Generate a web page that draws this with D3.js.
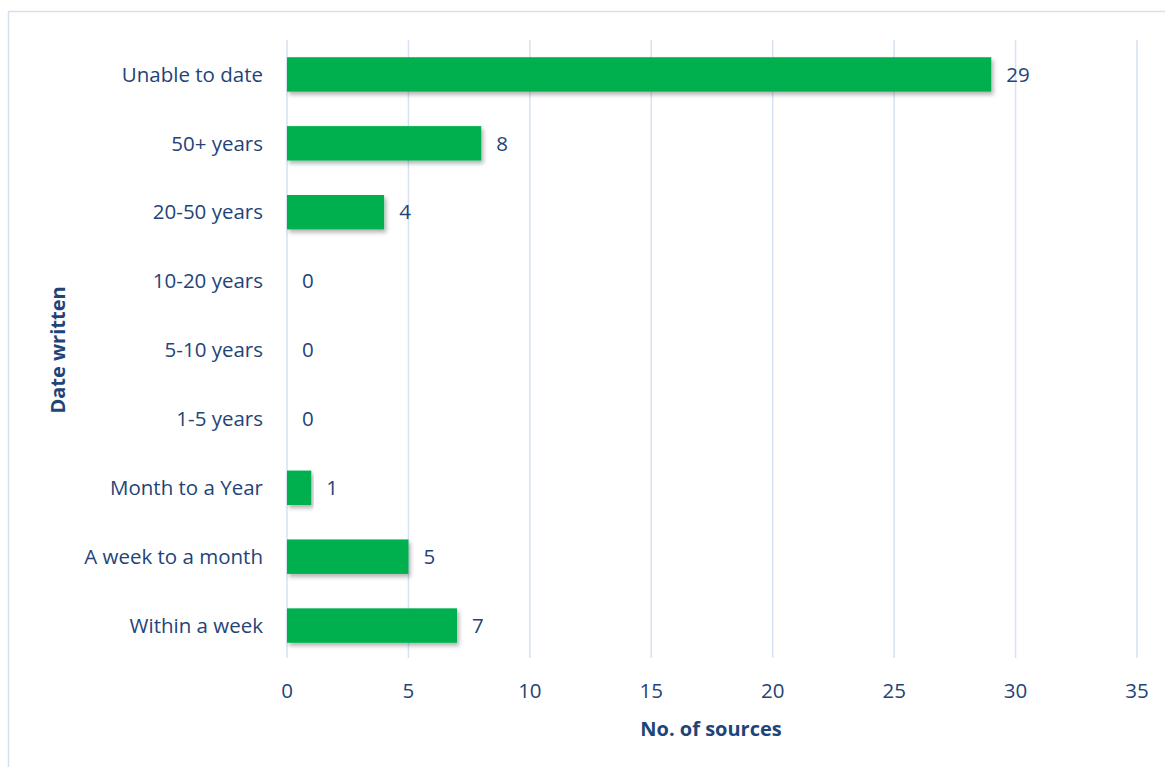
<!DOCTYPE html>
<html><head><meta charset="utf-8">
<script src="https://cdn.jsdelivr.net/npm/d3@7"></script>
<style>body{margin:0;background:#fff;} text{font-family:"Open Sans","Noto Sans",sans-serif;}</style>
</head><body>
<script>
const categories = ["Unable to date","50+ years","20-50 years","10-20 years","5-10 years","1-5 years","Month to a Year","A week to a month","Within a week"];
const values = [29,8,4,0,0,0,1,5,7];
const xTicks = [0,5,10,15,20,25,30,35];
const xTitle = "No. of sources";
const yTitle = "Date written";

const W = 1165, H = 767;
const svg = d3.select("body").append("svg").attr("width",W).attr("height",H);
const defs = svg.append("defs");
const f = defs.append("filter").attr("id","sh").attr("x","-5%").attr("y","-20%").attr("width","115%").attr("height","160%");
f.append("feDropShadow").attr("dx",2).attr("dy",3).attr("stdDeviation",2).attr("flood-color","#000").attr("flood-opacity",0.3);

svg.append("rect").attr("x",8.5).attr("y",11.5).attr("width",W).attr("height",H).attr("fill","#fff").attr("stroke","#D5DFEF").attr("stroke-width",1.5);

const x = d3.scaleLinear().domain([0,35]).range([287,1137]);
const y = d3.scaleBand().domain(categories).range([40,660]).paddingInner(0.5).paddingOuter(0.25);
const txt = "#1F4478";
const fs = 20.5;

svg.append("g").selectAll("line").data(xTicks).join("line")
  .attr("x1",d=>x(d)).attr("x2",d=>x(d)).attr("y1",40).attr("y2",658)
  .attr("stroke","#D6E2F2").attr("stroke-width",1.5);

svg.append("g").selectAll("rect").data(values).join("rect")
  .attr("x",x(0)).attr("y",(d,i)=>y(categories[i]))
  .attr("width",d=>x(d)-x(0)).attr("height",y.bandwidth())
  .attr("fill","#00B050").attr("filter","url(#sh)");

svg.append("g").selectAll("text").data(values).join("text")
  .attr("x",d=>x(d)+15).attr("y",(d,i)=>y(categories[i])+y.bandwidth()/2)
  .attr("dy","0.35em").attr("font-size",fs).attr("fill",txt).text(d=>d);

svg.append("g").selectAll("text").data(categories).join("text")
  .attr("x",263).attr("y",d=>y(d)+y.bandwidth()/2).attr("dy","0.35em")
  .attr("text-anchor","end").attr("font-size",fs).attr("fill",txt).text(d=>d);

svg.append("g").selectAll("text").data(xTicks).join("text")
  .attr("x",d=>x(d)).attr("y",691).attr("dy","0.35em")
  .attr("text-anchor","middle").attr("font-size",fs).attr("fill",txt).text(d=>d);

svg.append("text").attr("x",711).attr("y",729).attr("dy","0.35em").attr("text-anchor","middle")
  .attr("font-size",20).attr("font-weight","bold").attr("fill",txt).text(xTitle);
svg.append("text").attr("transform","translate(58,350) rotate(-90)").attr("dy","0.35em").attr("text-anchor","middle")
  .attr("font-size",20).attr("font-weight","bold").attr("fill",txt).text(yTitle);
</script>
</body></html>
